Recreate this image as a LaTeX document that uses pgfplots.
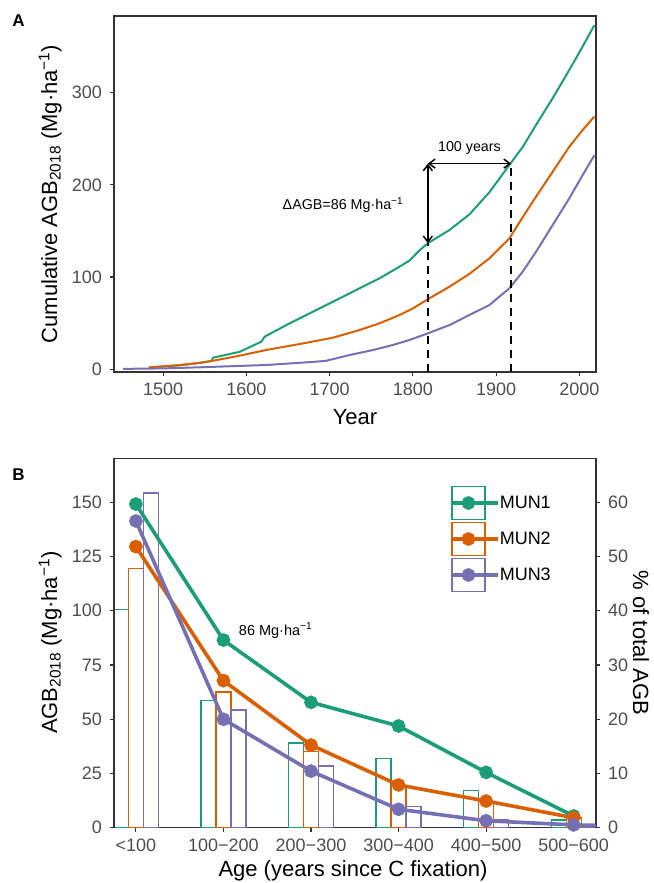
\documentclass[border=0pt]{standalone}
\usepackage{fontspec}
\setmainfont{Liberation Sans}
\usepackage{pgfplots}
\pgfplotsset{compat=1.18}
\usetikzlibrary{arrows.meta}
\definecolor{mgreen}{HTML}{1B9E77}
\definecolor{morange}{HTML}{D95F02}
\definecolor{mpurple}{HTML}{7570B3}
\definecolor{framec}{HTML}{333333}
\definecolor{tickc}{HTML}{4D4D4D}
\pgfplotsset{
  base/.style={
    scale only axis, width=482pt,
    axis line style={draw=framec, line width=1.2pt},
    tick style={draw=framec, line width=1.2pt},
    major tick length=4pt,
    tick align=outside,
    tick label style={font=\fontsize{18}{20}\selectfont, text=tickc, inner sep=0pt},
    /pgf/number format/assume math mode=true,
    /pgf/number format/1000 sep={},
    xticklabel shift=7pt, yticklabel shift=8pt,
  }
}
\begin{document}
\begin{tikzpicture}
\path[use as bounding box] (0,0) rectangle (653pt,-883pt);
% ---------------- Panel A
\begin{axis}[base, at={(114pt,-372pt)}, anchor=south west, height=356pt,
  xmin=1441, xmax=2020, ymin=-2.9, ymax=383,
  xtick={1500,1600,1700,1800,1900,2000}, ytick={0,100,200,300},
  xtick pos=left, ytick pos=left]
\addplot[mgreen, line width=2pt, line join=round] coordinates {
(1483,2) (1520,4.5) (1544,7) (1558,9) (1560,12.6) (1592,19) (1618,30) (1622,35.4)
(1648,48) (1676,60.7) (1704,73.3) (1732,86) (1760,98.7) (1784,111.3) (1796,118)
(1808,129) (1818,136.7) (1844,151) (1868,168) (1892,192) (1916,221.6)
(1932,241) (1948,265) (1968,294) (1988,324.6) (2004,350) (2018,373)};
\addplot[morange, line width=2pt, line join=round] coordinates {
(1483,2) (1520,4.5) (1544,7) (1560,9.3) (1592,14.8) (1624,21) (1664,27.4) (1704,34.3)
(1736,42.6) (1760,49.9) (1784,58.9) (1800,66) (1818,76) (1844,89.6) (1868,103.5)
(1892,120.4) (1916,142) (1932,165) (1948,187.2) (1968,214.3) (1988,241.4)
(2004,259.5) (2018,274)};
\addplot[mpurple, line width=2pt, line join=round] coordinates {
(1452,0.5) (1500,1) (1544,2.2) (1624,4.7) (1684,8.3) (1696,9.3) (1724,15.5)
(1752,20.9) (1776,26.4) (1796,31.8) (1818,39) (1844,48) (1868,58.9) (1892,69.7)
(1916,87.9) (1932,105.9) (1948,127.5) (1968,156.5) (1988,185.5) (2004,210.7) (2018,232)};
\addplot[black, line width=1.8pt, dash pattern=on 8pt off 6pt] coordinates {(1818,-2.9) (1818,136.7)};
\addplot[black, line width=1.8pt, dash pattern=on 8pt off 6pt] coordinates {(1918,-2.9) (1918,223)};
\addplot[black, line width=1.5pt, {Straight Barb[length=6pt,width=9pt]}-{Straight Barb[length=6pt,width=9pt]}] coordinates {(1818,136.7) (1818,223)};
\addplot[black, line width=1.5pt, {Straight Barb[length=6pt,width=9pt]}-{Straight Barb[length=6pt,width=9pt]}] coordinates {(1818,223) (1918,223)};
\node[anchor=base, font=\fontsize{14.3}{16}\selectfont] at (axis cs:1716,172.8) {ΔAGB=86 Mg·ha\textsuperscript{−1}};
\node[anchor=base, font=\fontsize{14.3}{16}\selectfont] at (axis cs:1868,236) {100 years};
\end{axis}
% ---------------- Panel B bars (% axis)
\begin{axis}[base, at={(114pt,-827.7pt)}, anchor=south west, height=369.4pt,
  xmin=-0.25, xmax=5.255, ymin=0, ymax=68.12,
  xtick={0,1,2,3,4,5}, xticklabels={{<100},{100−200},{200−300},{300−400},{400−500},{500−600}},
  ytick={0,10,20,30,40,50,60}, xtick pos=left, ytick pos=right, yticklabel pos=right]
\addplot[ybar, bar width=0.171, bar shift=-0.171, draw=mgreen, fill=none, line width=1.3pt] coordinates {
(0,40.3) (1,23.4) (2,15.6) (3,12.7) (4,6.9) (5,1.4)};
\addplot[ybar, bar width=0.171, bar shift=0, draw=morange, fill=none, line width=1.3pt] coordinates {
(0,47.8) (1,25.0) (2,14.0) (3,7.8) (4,4.8) (5,1.8)};
\addplot[ybar, bar width=0.171, bar shift=0.171, draw=mpurple, fill=none, line width=1.3pt] coordinates {
(0,61.7) (1,21.7) (2,11.4) (3,3.9) (4,1.4) (5,0.3)};
\end{axis}
% ---------------- Panel B lines (Mg/ha axis)
\begin{axis}[base, at={(114pt,-827.7pt)}, anchor=south west, height=369.4pt,
  xmin=-0.25, xmax=5.255, ymin=0, ymax=170.3, hide x axis,
  ytick={0,25,50,75,100,125,150}, ytick pos=left,
  legend style={at={(0.697,0.926)}, anchor=north west, draw=none, fill=none, inner sep=0pt,
    nodes={inner sep=0pt}, row sep=1.7pt, font=\fontsize{18}{20}\selectfont},
  legend cell align=left,
  legend image code/.code={
    \draw[line width=1.3pt, fill=none] (0pt,-16.5pt) rectangle (33pt,16.5pt);
    \draw[line width=3.6pt] (2pt,0pt) -- (31pt,0pt);
    \fill (16.5pt,0pt) circle (5pt);
    \path (0pt,0pt) -- (46pt,0pt);
  }]
\addplot[mgreen, line width=3.6pt, mark=*, mark size=5pt] coordinates {
(0,149.2) (1,86.5) (2,57.8) (3,46.9) (4,25.5) (5,5.4)};
\addplot[morange, line width=3.6pt, mark=*, mark size=5pt] coordinates {
(0,129.6) (1,67.8) (2,38.1) (3,19.7) (4,12.3) (5,4.6)};
\addplot[mpurple, line width=3.6pt, mark=*, mark size=5pt] coordinates {
(0,141.4) (1,50.0) (2,26.1) (3,8.5) (4,3.2) (5,1.3) (6,0.5)};
\legend{MUN1,MUN2,MUN3}
\node[anchor=base, font=\fontsize{14.5}{16}\selectfont] at (axis cs:1.596,88.8) {86 Mg·ha\textsuperscript{−1}};
\end{axis}
% ---------------- titles
\node[anchor=base, font=\fontsize{17}{18}\selectfont\bfseries] at (18.5pt,-26.7pt) {A};
\node[anchor=base, font=\fontsize{17}{18}\selectfont\bfseries] at (18.5pt,-480pt) {B};
\node[rotate=90, anchor=base, font=\fontsize{22}{24}\selectfont] at (57pt,-194pt) {Cumulative AGB\textsubscript{2018} (Mg·ha\textsuperscript{−1})};
\node[anchor=base, font=\fontsize{22}{24}\selectfont] at (355pt,-424pt) {Year};
\node[rotate=90, anchor=base, font=\fontsize{22}{24}\selectfont] at (57pt,-642.6pt) {AGB\textsubscript{2018} (Mg·ha\textsuperscript{−1})};
\node[rotate=-90, anchor=base, font=\fontsize{22}{24}\selectfont] at (633pt,-643pt) {\% of total AGB};
\node[anchor=base, font=\fontsize{22}{24}\selectfont] at (353pt,-876pt) {Age (years since C fixation)};
\end{tikzpicture}
\end{document}
